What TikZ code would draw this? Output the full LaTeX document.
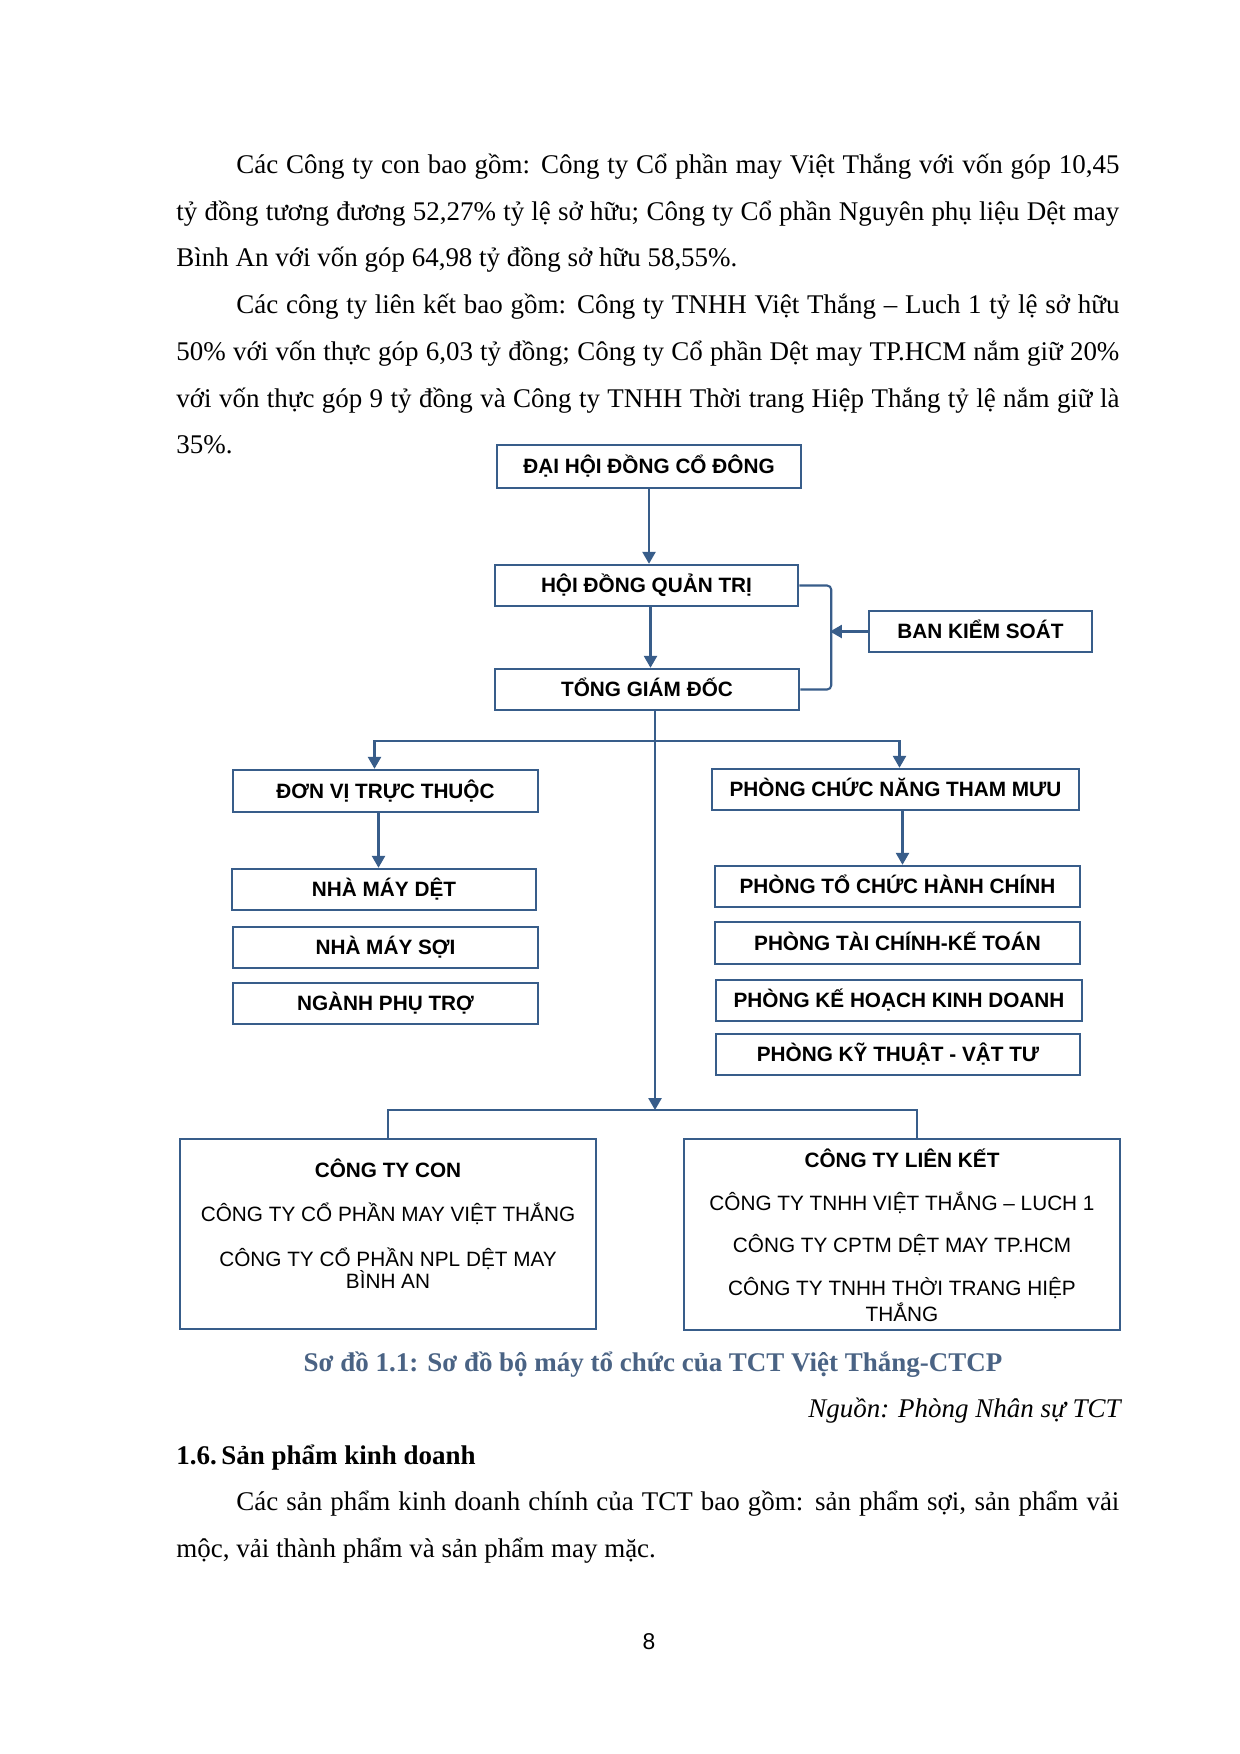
\documentclass[tikz,border=0pt]{standalone}
\usepackage{fontspec}
\setmainfont{Liberation Serif}
\newfontfamily\arial{Liberation Sans}
\usetikzlibrary{arrows.meta,calc}
\definecolor{bl}{HTML}{385D8A}
\definecolor{capc}{HTML}{4A6384}
\def\pu{0.16935mm}
\newcommand{\bodyf}{\fontsize{13pt}{15pt}\selectfont}
\newcommand{\boxf}{\arial\fontsize{10pt}{12pt}\selectfont}
\newcommand{\bx}[6]{\node[boxst, minimum width={(#4-#2)*\pu}, minimum height={(#5-#3)*\pu}] (#1) at ({(#2+#4)/2},{(#3+#5)/2}) {#6};}
\begin{document}
\begin{tikzpicture}[x=\pu, y=-\pu,
  boxst/.style={draw=bl, line width=1.2pt, inner sep=0pt, font=\boxf\bfseries, text height=7.2pt, text depth=0pt, align=center},
  conn/.style={draw=bl, line width=1pt},
  arr/.style={conn, -{Triangle[length=2mm,width=2.2mm]}},
  body/.style={anchor=base west, inner sep=0pt, font=\bodyf},
  btxt/.style={anchor=base, inner sep=0pt, font=\boxf},
  btitle/.style={anchor=base, inner sep=0pt, font=\boxf\bfseries}]
\fill[white] (0,0) rectangle (1240,1754);
\path[use as bounding box] (0,0) rectangle (1240,1754);

% body text
\node[body] (l1) at (236,173) {\makebox[149.54mm][s]{Các Công ty con bao gồm: Công ty Cổ phần may Việt Thắng với vốn góp 10,45}};
\node[body] (l2) at (176,220) {\makebox[159.70mm][s]{tỷ đồng tương đương 52,27\% tỷ lệ sở hữu; Công ty Cổ phần Nguyên phụ liệu Dệt may}};
\node[body] (l3) at (176,266) {Bình An với vốn góp 64,98 tỷ đồng sở hữu 58,55\%.};
\node[body] (l4) at (236,313) {\makebox[149.54mm][s]{Các công ty liên kết bao gồm: Công ty TNHH Việt Thắng – Luch 1 tỷ lệ sở hữu}};
\node[body] (l5) at (176,360) {\makebox[159.70mm][s]{50\% với vốn thực góp 6,03 tỷ đồng; Công ty Cổ phần Dệt may TP.HCM nắm giữ 20\%}};
\node[body] (l6) at (176,407) {\makebox[159.70mm][s]{với vốn thực góp 9 tỷ đồng và Công ty TNHH Thời trang Hiệp Thắng tỷ lệ nắm giữ là}};
\node[body] (l7) at (176,453) {35\%.};

% boxes
\bx{dh}{497}{445}{801}{488}{ĐẠI HỘI ĐỒNG CỔ ĐÔNG}
\bx{hd}{495}{565}{798}{606}{HỘI ĐỒNG QUẢN TRỊ}
\bx{tgd}{495}{669}{799}{710}{TỔNG GIÁM ĐỐC}
\bx{bks}{869}{611}{1092}{652}{BAN KIỂM SOÁT}
\bx{dv}{233}{770}{538}{812}{ĐƠN VỊ TRỰC THUỘC}
\bx{nmd}{232}{869}{536}{910}{NHÀ MÁY DỆT}
\bx{nms}{233}{927}{538}{968}{NHÀ MÁY SỢI}
\bx{npt}{233}{983}{538}{1024}{NGÀNH PHỤ TRỢ}
\bx{pcn}{712}{769}{1079}{810}{PHÒNG CHỨC NĂNG THAM MƯU}
\bx{ptc}{715}{866}{1080}{907}{PHÒNG TỔ CHỨC HÀNH CHÍNH}
\bx{ptk}{715}{922}{1080}{964}{PHÒNG TÀI CHÍNH-KẾ TOÁN}
\bx{pkh}{716}{980}{1082}{1021}{PHÒNG KẾ HOẠCH KINH DOANH}
\bx{pkt}{716}{1034}{1080}{1075}{PHÒNG KỸ THUẬT - VẬT TƯ}
\bx{ctc}{180}{1139}{596}{1329}{}
\bx{ctlk}{684}{1139}{1120}{1330}{}

% texts of the big boxes
\node[btitle] (t1) at (388,1177) {CÔNG TY CON};
\node[btxt] (t2) at (388,1221) {CÔNG TY CỔ PHẦN MAY VIỆT THẮNG};
\node[btxt] (t3) at (388,1266) {CÔNG TY CỔ PHẦN NPL DỆT MAY};
\node[btxt] (t4) at (388,1288) {BÌNH AN};
\node[btitle] (u1) at (902,1167) {CÔNG TY LIÊN KẾT};
\node[btxt] (u2) at (902,1210) {CÔNG TY TNHH VIỆT THẮNG – LUCH 1};
\node[btxt] (u3) at (902,1252) {CÔNG TY CPTM DỆT MAY TP.HCM};
\node[btxt] (u4) at (902,1295) {CÔNG TY TNHH THỜI TRANG HIỆP};
\node[btxt] (u5) at (902,1321) {THẮNG};

% connectors
\draw[arr] (dh.south) -- (dh.south |- hd.north);
\coordinate (a1) at ($(hd.south)+(4,0)$);
\draw[arr] (a1) -- (a1 |- tgd.north);
\draw[conn, rounded corners=2pt] (hd.east) -- ++(32,0) |- (tgd.east);
\coordinate (br) at (830,632);
\draw[arr] (bks.west) -- (bks.west -| br);

\coordinate (m0) at ($(tgd.south)+(8,0)$);
\coordinate (h1) at (655,741);
\coordinate (hub2) at (655,1110);
\draw[arr] (m0) -- (hub2);
\coordinate (dvin) at ($(dv.north)+(-11,0)$);
\coordinate (pcin) at ($(pcn.north)+(4,0)$);
\draw[arr] (h1) -| (dvin);
\draw[arr] (h1) -| (pcin);
\coordinate (dvout) at ($(dv.south)+(-7,0)$);
\draw[arr] (dvout) -- (dvout |- nmd.north);
\coordinate (pcout) at ($(pcn.south)+(7,0)$);
\draw[arr] (pcout) -- (pcout |- ptc.north);
\coordinate (c2) at ($(ctlk.north)+(15,0)$);
\draw[conn] (ctc.north) |- (hub2) -| (c2);

% caption and rest of page
\node[anchor=base, inner sep=0pt, font=\bodyf\bfseries, text=capc] (cap) at (653,1371) {Sơ đồ 1.1: Sơ đồ bộ máy tổ chức của TCT Việt Thắng-CTCP};
\node[anchor=base east, inner sep=0pt, font=\bodyf\itshape] (src) at (1121,1417) {Nguồn: Phòng Nhân sự TCT};
\node[body, font=\bodyf\bfseries] (h16) at (176,1464) {1.6.\,Sản phẩm kinh doanh};
\node[body] (q1) at (236,1510) {\makebox[149.54mm][s]{Các sản phẩm kinh doanh chính của TCT bao gồm: sản phẩm sợi, sản phẩm vải}};
\node[body] (q2) at (176,1557) {mộc, vải thành phẩm và sản phẩm may mặc.};
\node[anchor=base, inner sep=0pt, font=\arial\fontsize{11pt}{13pt}\selectfont] (pg) at (649,1649) {8};
\end{tikzpicture}
\end{document}
